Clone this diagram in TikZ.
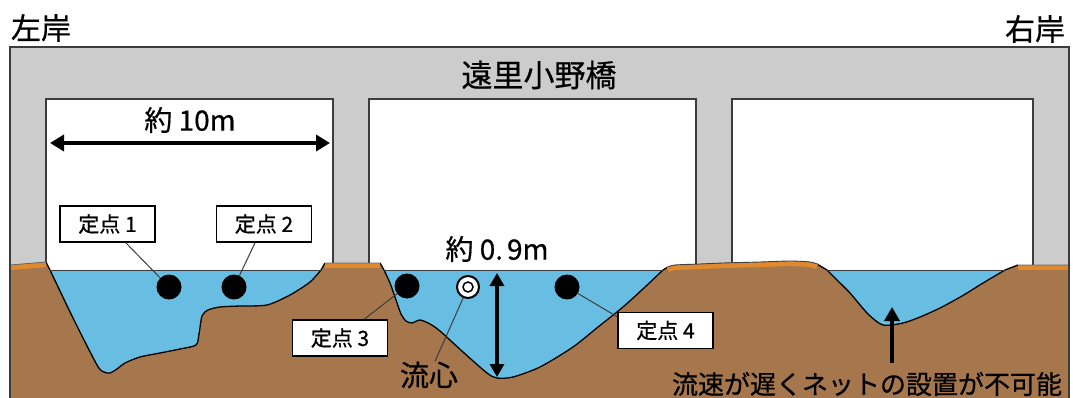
\documentclass[tikz,border=0pt]{standalone}
\usepackage{fontspec}
\setmainfont{Noto Sans CJK JP}[FakeBold=0.6]
\usetikzlibrary{arrows.meta,calc}

\definecolor{bridgegray}{RGB}{204,204,204}
\definecolor{soil}{RGB}{166,118,76}
\definecolor{topsoil}{RGB}{224,138,48}
\definecolor{water}{RGB}{104,190,226}
\definecolor{edge}{RGB}{60,60,60}

\tikzset{
  pointbox/.style={draw=black, line width=1.3pt, fill=white, minimum width=95pt,
    minimum height=36pt, inner sep=0pt, font=\fontsize{21}{21}\selectfont},
  probe/.style={circle, fill=black, minimum size=25pt, inner sep=0pt},
  leader/.style={draw=edge, line width=1pt},
  lbl/.style={inner sep=0pt, font=\fontsize{28}{28}\selectfont},
  opening/.style={fill=white, draw=edge, line width=1.2pt},
  bed/.style={draw=black, line width=1.3pt},
}

\begin{document}
\begin{tikzpicture}[x=1pt,y=-1pt]
\useasboundingbox (0,0) rectangle (1073,398);

% bridge body and its three openings
\fill[bridgegray] (10,47) rectangle (1069,398);
\draw[opening] (46,99) rectangle (333,285);
\draw[opening] (369,99) rectangle (696,285);
\draw[opening] (732,99) rectangle (1033,285);

% river bed cross-section
\fill[soil] (10,398) -- (10,265) -- (46,262)
  -- plot[smooth,tension=0.45] coordinates {(50,270) (73,318) (97,365) (104,372) (110,373) (117,369) (125,363) (140,357) (160,353) (180,349) (196,345) (199,334) (202,316) (208,310) (220,307) (240,306) (267,305) (290,295) (310,282) (321,270)}
  -- (325,263) -- (380,263)
  -- plot[smooth,tension=0.45] coordinates {(384,270) (390,283) (395,297) (401,314) (406,321) (412,323) (420,320) (430,324) (440,331) (463,352) (487,373) (497,378) (513,377) (540,367) (573,347) (598,327) (623,307) (645,287) (663,270)}
  -- plot[smooth,tension=0.45] coordinates {(668,267) (675,265) (700,264) (723,263) (760,262) (790,261) (810,262) (817,264)}
  -- plot[smooth,tension=0.45] coordinates {(827,270) (838,281) (850,293) (868,314) (883,325) (903,323) (920,317) (940,308) (962,296) (983,283) (1005,270)}
  -- (1018,265) -- (1069,265) -- (1069,398) -- cycle;

% water in the three channels
\fill[water] plot[smooth,tension=0.45] coordinates {(50,270) (73,318) (97,365) (104,372) (110,373) (117,369) (125,363) (140,357) (160,353) (180,349) (196,345) (199,334) (202,316) (208,310) (220,307) (240,306) (267,305) (290,295) (310,282) (321,270)} -- cycle;
\fill[water] plot[smooth,tension=0.45] coordinates {(384,270) (390,283) (395,297) (401,314) (406,321) (412,323) (420,320) (430,324) (440,331) (463,352) (487,373) (497,378) (513,377) (540,367) (573,347) (598,327) (623,307) (645,287) (663,270)} -- cycle;
\fill[water] plot[smooth,tension=0.45] coordinates {(827,270) (838,281) (850,293) (868,314) (883,325) (903,323) (920,317) (940,308) (962,296) (983,283) (1005,270)} -- cycle;

% channel outlines and water surface
\draw[bed] (46,262) -- plot[smooth,tension=0.45] coordinates {(50,270) (73,318) (97,365) (104,372) (110,373) (117,369) (125,363) (140,357) (160,353) (180,349) (196,345) (199,334) (202,316) (208,310) (220,307) (240,306) (267,305) (290,295) (310,282) (321,270)} -- (325,263);
\draw[bed] (380,263) -- plot[smooth,tension=0.45] coordinates {(384,270) (390,283) (395,297) (401,314) (406,321) (412,323) (420,320) (430,324) (440,331) (463,352) (487,373) (497,378) (513,377) (540,367) (573,347) (598,327) (623,307) (645,287) (663,270)} -- (668,267);
\draw[bed] (817,264) -- plot[smooth,tension=0.45] coordinates {(827,270) (838,281) (850,293) (868,314) (883,325) (903,323) (920,317) (940,308) (962,296) (983,283) (1005,270)} -- (1018,265);
\draw[edge, line width=1pt] (50,270) -- (321,270) (384,270) -- (663,270) (827,270) -- (1005,270);

% top soil strips on the banks
\begin{scope}[topsoil, line width=5pt, yshift=-2.6pt]
  \draw (10,265) -- (46,262);
  \draw (325,263) -- (380,263);
  \draw plot[smooth,tension=0.45] coordinates {(668,267) (675,265) (700,264) (723,263) (760,262) (790,261) (810,262) (817,264)};
  \draw (1018,265) -- (1069,265);
\end{scope}
\draw[black!75, line width=0.9pt] plot[smooth,tension=0.45] coordinates {(668,267) (675,265) (700,264) (723,263) (760,262) (790,261) (810,262) (817,264)};
\draw[black!60, line width=0.8pt] (10,265) -- (46,262) (325,263) -- (380,263) (1018,265) -- (1069,265);

% outer outline of the bridge
\draw[edge, line width=1.2pt] (10,398) -- (10,47) -- (1069,47) -- (1069,398);

% titles
\node[lbl, font=\fontsize{30}{30}\selectfont] (left) at (41,28) {左岸};
\node[lbl, font=\fontsize{30}{30}\selectfont] (right) at (1035,29) {右岸};
\node[lbl, font=\fontsize{31}{31}\selectfont] (bridge) at (539,75) {遠里小野橋};

% width of the left span
\node[lbl] (width) at (190,120) {約 10m};
\coordinate (wl) at (50,143);
\coordinate (wr) at (330,143);
\draw[line width=4.5pt, {Triangle[length=14pt,width=16pt]}-{Triangle[length=14pt,width=16pt]}] (wl) -- (wr);

% measuring points
\node[probe] (p1) at (169,287) {};
\node[probe] (p2) at (234,287) {};
\node[probe] (p3) at (407,286) {};
\node[probe] (p4) at (567,287) {};
\node[pointbox] (b1) at (107.5,224) {定点 1};
\node[pointbox] (b2) at (264,224) {定点 2};
\node[pointbox] (b3) at (340,338) {定点 3};
\node[pointbox] (b4) at (665.5,330.5) {定点 4};
\draw[leader] (b1) -- (p1);
\draw[leader] (b2) -- (p2);
\draw[leader] (b3) -- (p3);
\draw[leader] (p4) -- ([yshift=-5pt]b4.north west);

% centre of flow
\node[circle, draw=black, line width=2pt, fill=white, minimum size=22pt, inner sep=0pt] (fc) at (468,287) {};
\node[circle, draw=black, line width=1.5pt, minimum size=10pt, inner sep=0pt] (fcin) at (468,287) {};
\node[lbl, font=\fontsize{29}{29}\selectfont] (flow) at (429,375) {流心};
\draw[leader] (flow) -- (fc);

% depth of the main channel
\node[lbl] (depth) at (497,249) {約 0.\hspace{4pt}9m};
\coordinate (dt) at (497,273);
\coordinate (db) at (497,377);
\draw[line width=3.5pt, {Triangle[length=13pt,width=14pt]}-{Triangle[length=13pt,width=14pt]}] (dt) -- (db);

% right channel note
\node[lbl, font=\fontsize{26}{26}\selectfont] (note) at (867,384) {流速が遅くネットの設置が不可能};
\coordinate (ntail) at (892,363);
\coordinate (ntip) at (892,307);
\draw[line width=4pt, -{Triangle[length=14pt,width=15pt]}] (ntail) -- (ntip);
\end{tikzpicture}
\end{document}
